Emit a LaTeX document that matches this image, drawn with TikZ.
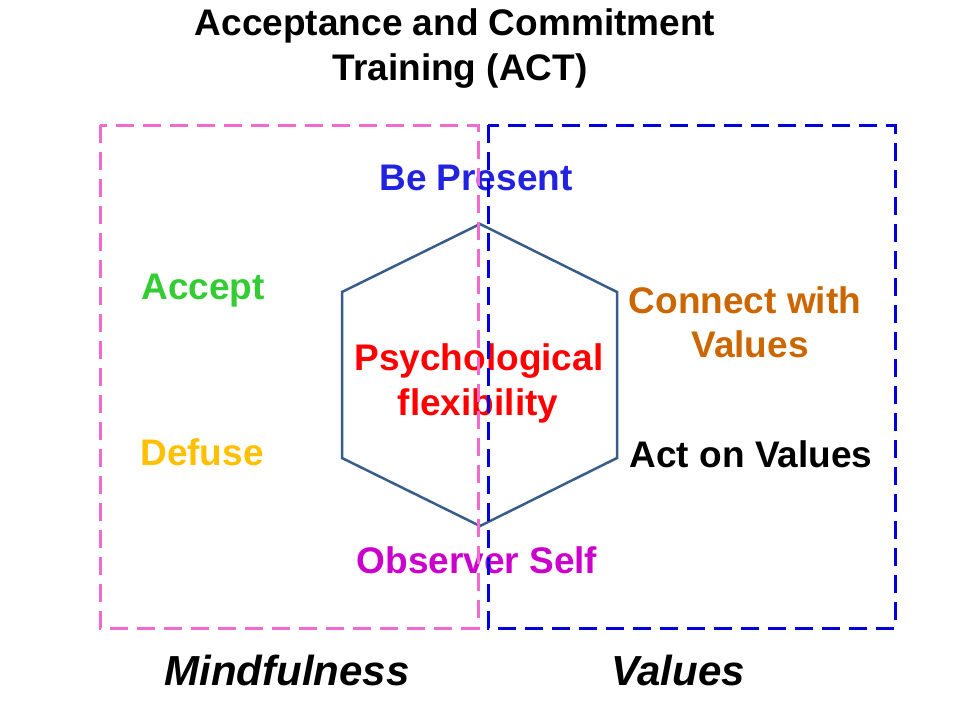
\documentclass[tikz,border=0pt]{standalone}
\usepackage{fontspec}
\setmainfont{Liberation Sans}
\definecolor{bpblue}{RGB}{34,34,225}
\definecolor{accgreen}{RGB}{51,204,51}
\definecolor{defyellow}{RGB}{255,192,0}
\definecolor{conorange}{RGB}{204,102,0}
\definecolor{obsmag}{RGB}{204,0,204}
\definecolor{hexblue}{RGB}{56,93,138}
\definecolor{boxpink}{RGB}{240,106,207}
\definecolor{boxblue}{RGB}{0,0,221}
\tikzset{
  lbl/.style={font=\fontsize{37}{44}\selectfont\bfseries, anchor=base, inner sep=0pt, align=center},
  big/.style={font=\fontsize{42}{48}\selectfont\bfseries\itshape, anchor=base, inner sep=0pt},
  dbox/.style={line width=3pt, dash pattern=on 18pt off 9pt},
  hexline/.style={draw=hexblue, line width=2.5pt, line join=miter}
}
\begin{document}
\begin{tikzpicture}[x=1pt,y=-1pt]
\useasboundingbox[fill=white] (0,0) rectangle (960,720);
% hexagon
\coordinate (h1) at (480,224);
\coordinate (h2) at (617,292);
\coordinate (h3) at (617,458);
\coordinate (h4) at (480,526);
\coordinate (h5) at (342,458);
\coordinate (h6) at (342,292);
\draw[hexline] (h1) -- (h2) -- (h3) -- (h4) -- (h5) -- (h6) -- cycle;
% texts
\node[lbl, text=black] (t1) at (455,35) {Acceptance and Commitment};
\node[lbl, text=black] (t2) at (460,80) {Training (ACT)};
\node[lbl, text=bpblue] (bp) at (476,190) {Be Present};
\node[lbl, text=accgreen] (acc) at (203,299) {Accept};
\node[lbl, text=defyellow] (def) at (202,465) {Defuse};
\node[lbl, text=conorange] (con1) at (745,313) {Connect with};
\node[lbl, text=conorange] (con2) at (750,357) {Values};
\node[lbl, text=black] (act) at (751,467) {Act on Values};
\node[lbl, text=red] (ps1) at (479,370) {Psychological};
\node[lbl, text=red] (ps2) at (478,415) {flexibility};
\node[lbl, text=obsmag] (obs) at (477,573) {Observer Self};
\node[big, text=black] (mind) at (287,685) {Mindfulness};
\node[big, text=black] (val) at (678,685) {Values};
% dashed boxes
\draw[dbox, draw=boxpink] (100,125) rectangle (478,628);
\draw[dbox, draw=boxblue] (488,125) rectangle (895,628);
\end{tikzpicture}
\end{document}
